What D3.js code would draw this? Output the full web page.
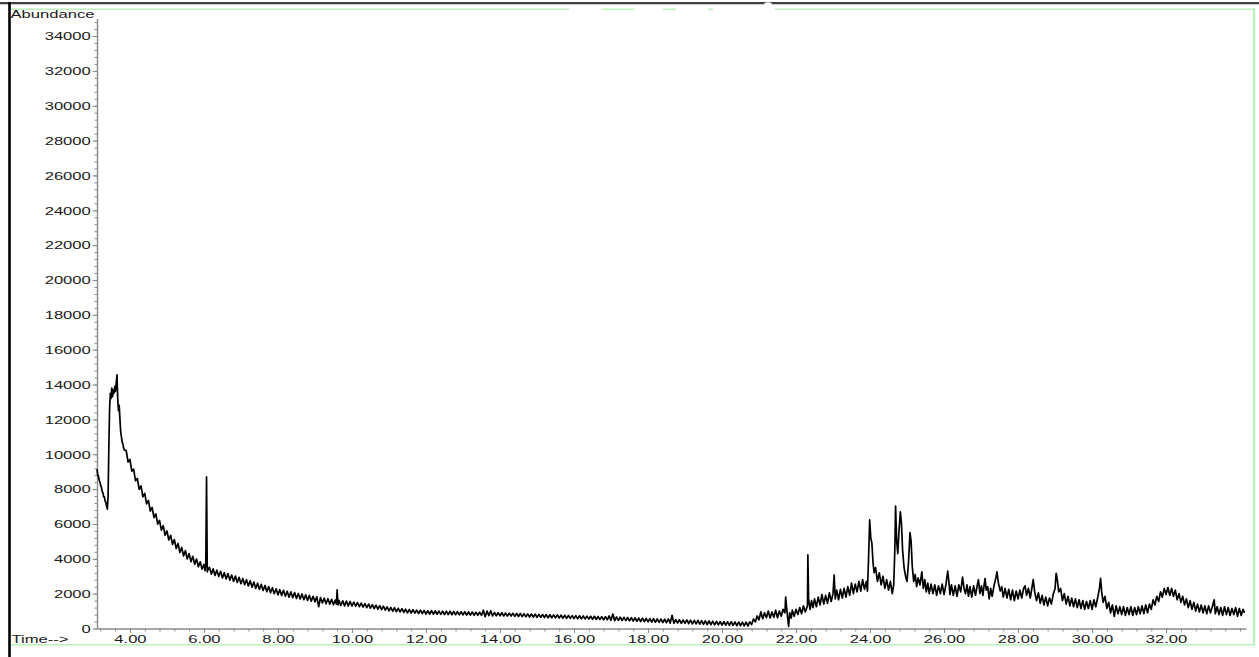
<!DOCTYPE html>
<html>
<head>
<meta charset="utf-8">
<script src="https://cdn.jsdelivr.net/npm/d3@7"></script>
<style>
  html, body { margin: 0; padding: 0; background: #fff; }
  svg { display: block; }
</style>
</head>
<body>
<svg id="chart" width="1259" height="657"></svg>
<script>
// ---- Axis labels -------------------------------------------------------
const yTickValues = [0, 2000, 4000, 6000, 8000, 10000, 12000, 14000, 16000,
  18000, 20000, 22000, 24000, 26000, 28000, 30000, 32000, 34000];
const xLabelTimes = [4, 6, 8, 10, 12, 14, 16, 18, 20, 22, 24, 26, 28, 30, 32];
const xTickLabels = ["4.00", "6.00", "8.00", "10.00", "12.00", "14.00", "16.00",
  "18.00", "20.00", "22.00", "24.00", "26.00", "28.00", "30.00", "32.00"];
const yAxisTitle = "Abundance";
const xAxisTitle = "Time-->";

// ---- Total ion chromatogram: [retention time (min), abundance] ----------
const solventFront = [
  [3.11,9150],[3.13,8800],[3.15,8750],[3.17,8500],[3.19,8400],[3.21,8200],[3.23,8100],
  [3.25,7850],[3.27,7800],[3.29,7550],[3.31,7550],[3.33,7300],[3.35,7250],[3.37,7000],
  [3.39,6850],[3.41,7600],[3.43,10400],[3.45,12600],[3.47,13500],[3.49,13200],[3.51,13800],
  [3.53,13300],[3.55,13700],[3.57,13500],[3.59,13900],[3.61,13600],[3.63,14100],[3.65,14550],
  [3.67,13200],[3.69,12500],[3.71,12800],[3.73,12000],[3.75,11300],[3.77,11000],[3.79,10700],
  [3.81,10600],[3.83,10350],[3.85,10250]
];

const earlyDecay = [
  [3.90,10200],[3.95,9550],[4.00,9700],[4.05,9030],[4.10,9150],[4.15,8480],[4.20,8610],
  [4.25,7990],[4.30,8180],[4.35,7560],[4.40,7760],[4.45,7150],[4.50,7350],[4.55,6740],
  [4.60,6950],[4.65,6360],[4.70,6580],[4.75,5990],[4.80,6200],[4.85,5650],[4.90,5900],
  [4.95,5350],[5.00,5600],[5.05,5080],[5.10,5350],[5.15,4830],[5.20,5100],[5.25,4590],
  [5.30,4880],[5.35,4360],[5.40,4650],[5.45,4160],[5.50,4470],[5.55,3990],[5.60,4300],
  [5.65,3830],[5.70,4140],[5.75,3690],[5.80,3990],[5.85,3540],[5.90,3830],[5.95,3400],
  [6.00,3680],[6.03,3320],[6.05,3650],[6.07,8700],[6.09,3250],[6.12,3450]
];

const midBaseline = [
  [6.15,3500],[6.20,3120],[6.25,3420],[6.30,3040],[6.35,3350],[6.40,2980],[6.45,3280],
  [6.50,2900],[6.55,3200],[6.60,2840],[6.65,3150],[6.70,2770],[6.75,3070],[6.80,2700],
  [6.85,3010],[6.90,2640],[6.95,2940],[7.00,2570],[7.05,2870],[7.10,2510],[7.15,2800],
  [7.20,2440],[7.25,2740],[7.30,2370],[7.35,2670],[7.40,2300],[7.45,2600],[7.50,2240],
  [7.55,2530],[7.60,2180],[7.65,2470],[7.70,2110],[7.75,2410],[7.80,2050],[7.85,2340],
  [7.90,2000],[7.95,2280],[8.00,1930],[8.05,2230],[8.10,1890],[8.15,2190],[8.20,1850],
  [8.25,2140],[8.30,1800],[8.35,2100],[8.40,1770],[8.45,2060],[8.50,1720],[8.55,2010],
  [8.60,1690],[8.65,1980],[8.70,1650],[8.75,1930],[8.80,1610],[8.85,1900],[8.90,1570],
  [8.95,1850],[9.00,1530],[9.05,1820],[9.10,1250],[9.15,1780],[9.20,1460],[9.25,1740],
  [9.30,1420],[9.35,1710],[9.40,1390],[9.45,1670],[9.50,1360],[9.55,1630],[9.58,1400],
  [9.60,2220],[9.62,1350],[9.65,1610],[9.70,1320],[9.75,1590],[9.80,1300],[9.85,1570],
  [9.90,1290],[9.95,1550],[10.00,1290],[10.05,1520],[10.10,1280],[10.15,1490],[10.20,1250],
  [10.25,1460],[10.30,1230],[10.35,1430],[10.40,1200],[10.45,1400],[10.50,1170],[10.55,1370],
  [10.60,1140],[10.65,1340],[10.70,1110],[10.75,1310],[10.80,1080],[10.85,1280],[10.90,1050],
  [10.95,1240],[11.00,1010],[11.05,1210],[11.10,990],[11.15,1190],[11.20,970],[11.25,1160],
  [11.30,950],[11.35,1140],[11.40,920],[11.45,1110],[11.50,900],[11.55,1090],[11.60,890],
  [11.65,1080],[11.70,880],[11.75,1060],[11.80,860],[11.85,1050],[11.90,850],[11.95,1040],
  [12.00,830],[12.05,1020],[12.10,830],[12.15,1020],[12.20,820],[12.25,1010],[12.30,820],
  [12.35,1000],[12.40,810],[12.45,1000],[12.50,800],[12.55,990],[12.60,800],[12.65,990],
  [12.70,790],[12.75,980],[12.80,790],[12.85,970],[12.90,780],[12.95,960],[13.00,780],
  [13.05,960],[13.10,770],[13.15,950],[13.20,770],[13.25,950],[13.30,760],[13.35,940],
  [13.40,760],[13.45,940],[13.50,750],[13.55,1050],[13.60,680],[13.65,1000],[13.70,740],
  [13.75,1020],[13.80,720],[13.85,920],[13.90,730],[13.95,910],[14.00,730],[14.05,900],
  [14.10,720],[14.15,890],[14.20,710],[14.25,880],[14.30,710],[14.35,870],[14.40,700],
  [14.45,860],[14.50,690],[14.55,860],[14.60,680],[14.65,850],[14.70,670],[14.75,840],
  [14.80,660],[14.85,830],[14.90,650],[14.95,820],[15.00,640],[15.05,810],[15.10,640],
  [15.15,800],[15.20,630],[15.25,800],[15.30,620],[15.35,790],[15.40,610],[15.45,780],
  [15.50,610],[15.55,780],[15.60,600],[15.65,770],[15.70,590],[15.75,760],[15.80,580],
  [15.85,750],[15.90,580],[15.95,740],[16.00,570],[16.05,740],[16.10,560],[16.15,730],
  [16.20,550],[16.25,720],[16.30,550],[16.35,710],[16.40,540],[16.45,700],[16.50,530],
  [16.55,700],[16.60,520],[16.65,690],[16.70,510],[16.75,680],[16.80,500],[16.85,670],
  [16.90,500],[16.95,720],[17.00,470],[17.05,830],[17.10,450],[17.15,660],[17.20,470],
  [17.25,650],[17.30,460],[17.35,640],[17.40,450],[17.45,630],[17.50,440],[17.55,620],
  [17.60,420],[17.65,610],[17.70,410],[17.75,600],[17.80,400],[17.85,590],[17.90,390],
  [17.95,580],[18.00,380],[18.05,570],[18.10,370],[18.15,560],[18.20,360],[18.25,550],
  [18.30,350],[18.35,540],[18.40,340],[18.45,530],[18.50,330],[18.55,550],[18.60,310],
  [18.65,760],[18.70,300],[18.75,510],[18.80,310],[18.85,500],[18.90,300],[18.95,490],
  [19.00,290],[19.05,490],[19.10,280],[19.15,480],[19.20,270],[19.25,470],[19.30,260],
  [19.35,460],[19.40,250],[19.45,450],[19.50,240],[19.55,440],[19.60,230],[19.65,430],
  [19.70,220],[19.75,420],[19.80,210],[19.85,410],[19.90,210],[19.95,400],[20.00,200],
  [20.05,400],[20.10,190],[20.15,390],[20.20,180],[20.25,390],[20.30,180],[20.35,380],
  [20.40,170],[20.45,370],[20.50,160],[20.55,370],[20.60,150],[20.65,360],[20.70,150],
  [20.75,380],[20.80,230],[20.85,540],[20.90,380],[20.95,720],[21.00,500]
];

const lateElution = [
  [21.05,950],[21.10,560],[21.15,900],[21.20,620],[21.25,1000],[21.30,600],[21.35,950],
  [21.40,640],[21.45,1050],[21.50,620],[21.55,1000],[21.60,700],[21.65,1100],[21.70,900],
  [21.72,1800],[21.75,1100],[21.78,500],[21.80,120],[21.83,900],[21.87,600],[21.90,1050],
  [21.95,700],[22.00,1100],[22.05,800],[22.10,1200],[22.15,850],[22.20,1300],[22.25,950],
  [22.30,1250],[22.31,1300],[22.32,4220],[22.34,1700],[22.38,1100],[22.42,1600],[22.46,1200],
  [22.50,1700],[22.55,1250],[22.60,1800],[22.65,1350],[22.70,1950],[22.75,1400],[22.80,1900],
  [22.85,1450],[22.90,2050],[22.95,1550],[23.00,2000],[23.03,3070],[23.06,1700],[23.10,2200],
  [23.15,1650],[23.20,2250],[23.25,1750],[23.30,2300],[23.35,1800],[23.40,2400],[23.45,1900],
  [23.50,2600],[23.55,2000],[23.60,2550],[23.65,2100],[23.70,2700],[23.75,2150],[23.80,2800],
  [23.85,2250],[23.90,2700],[23.93,2150],[23.96,4000],[23.99,6230],[24.02,5200],[24.05,4900],
  [24.08,3800],[24.11,3200],[24.15,3500],[24.20,2700],[24.25,3200],[24.30,2500],[24.35,3000],
  [24.40,2300],[24.45,2800],[24.50,2200],[24.55,2700],[24.60,2000],[24.64,2500],[24.67,4500],
  [24.69,7030],[24.72,5000],[24.75,4300],[24.78,5500],[24.82,6700],[24.85,6000],[24.88,4500],
  [24.92,3500],[24.96,3000],[25.00,2700],[25.04,3800],[25.08,5500],[25.11,5000],[25.14,3600],
  [25.18,2700],[25.22,3100],[25.26,2400],[25.30,2900],[25.35,2500],[25.40,3250],[25.44,2300],
  [25.48,2800],[25.52,2100],[25.56,2600],[25.60,2000],[25.65,2550],[25.70,2000],[25.75,2500],
  [25.80,1900],[25.85,2450],[25.90,2000],[25.95,2550],[26.00,1950],[26.05,2500],[26.10,3300],
  [26.13,2700],[26.16,1950],[26.20,2500],[26.25,1900],[26.30,2450],[26.35,1850],[26.40,2500],
  [26.45,2100],[26.50,2950],[26.54,2300],[26.58,2000],[26.62,2500],[26.66,1850],[26.70,2400],
  [26.75,1800],[26.80,2450],[26.85,1900],[26.90,2500],[26.93,2800],[26.97,2000],[27.01,2450],
  [27.05,1900],[27.09,2600],[27.11,2870],[27.14,2200],[27.18,2400],[27.22,1700],[27.26,2300],
  [27.30,1850],[27.35,2450],[27.40,2900],[27.43,3250],[27.47,2600],[27.52,2150],[27.56,2400],
  [27.60,1800],[27.65,2300],[27.70,1750],[27.75,2250],[27.80,1650],[27.85,2200],[27.90,1600],
  [27.95,2150],[28.00,1700],[28.05,2200],[28.10,1750],[28.15,2300],[28.19,2450],[28.23,1900],
  [28.28,2300],[28.33,1750],[28.38,2400],[28.41,2800],[28.45,2100],[28.50,1600],[28.55,2050],
  [28.60,1450],[28.65,1900],[28.70,1350],[28.75,1800],[28.80,1300],[28.85,1750],[28.90,1400],
  [28.95,1950],[29.00,2300],[29.03,3170],[29.06,2800],[29.10,2100],[29.15,2300],[29.20,1600],
  [29.25,2000],[29.30,1400],[29.35,1850],[29.40,1300],[29.45,1750],[29.50,1250],[29.55,1700],
  [29.60,1200],[29.65,1650],[29.70,1150],[29.75,1600],[29.80,1100],[29.85,1550],[29.90,1150],
  [29.95,1600],[30.00,1100],[30.05,1650],[30.10,1250],[30.15,1750],[30.20,2300],[30.23,2880],
  [30.26,2100],[30.30,1500],[30.35,1850],[30.40,1150],[30.45,1500],[30.50,900],[30.55,1350],
  [30.60,700],[30.65,1300],[30.70,850],[30.75,1250],[30.80,800],[30.85,1250],[30.90,750],
  [30.95,1200],[31.00,800],[31.05,1250],[31.10,750],[31.15,1200],[31.20,800],[31.25,1250],
  [31.30,850],[31.35,1300],[31.40,850],[31.45,1350],[31.50,900],[31.55,1400],[31.60,1100],
  [31.65,1650],[31.70,1350],[31.75,1850],[31.80,1550],[31.85,2100],[31.90,1800],[31.95,2300],
  [32.00,1950],[32.05,2350],[32.10,1900],[32.15,2300],[32.20,1850],[32.25,2200],[32.30,1650],
  [32.35,2000],[32.40,1500],[32.45,1850],[32.50,1350],[32.55,1700],[32.60,1200],[32.65,1600],
  [32.70,1100],[32.75,1500],[32.80,1000],[32.85,1400],[32.90,950],[32.95,1350],[33.00,900],
  [33.05,1300],[33.10,850],[33.15,1300],[33.20,900],[33.25,1250],[33.30,1650],[33.33,850],
  [33.38,1250],[33.43,800],[33.48,1200],[33.53,750],[33.58,1250],[33.63,800],[33.68,1200],
  [33.73,750],[33.78,1150],[33.83,800],[33.88,1200],[33.93,700],[33.98,1150],[34.03,750],
  [34.08,1100],[34.12,900]
];

const chromatogram = solventFront.concat(earlyDecay, midBaseline, lateElution);

// ---- Layout ----------------------------------------------------------------
const svg = d3.select("#chart");
const plot = { left: 97, right: 1246, top: 18.6, bottom: 628.5 };
const fontSize = 10.5;
const stretch = 1.58;           // wide, instrument-report style lettering
const axisGrey = "#8a8a8a";
const frameGreen = "#b9f3b9";

const x = d3.scaleLinear().domain([3.11, 34.16]).range([plot.left, plot.right]);
const y = d3.scaleLinear().domain([0, 35000]).range([plot.bottom, plot.top]);

// ---- Page frame ------------------------------------------------------------
const frame = svg.append("g");
frame.append("line").attr("x1", 0).attr("x2", 1259).attr("y1", 3).attr("y2", 3)
  .attr("stroke", "#000").attr("stroke-width", 1.6);
frame.append("line").attr("x1", 0).attr("x2", 1259).attr("y1", 4.6).attr("y2", 4.6)
  .attr("stroke", "#bbb").attr("stroke-width", 0.8);
frame.append("ellipse").attr("cx", 768).attr("cy", 4.5).attr("rx", 4).attr("ry", 2.2)
  .attr("fill", "#fff");
frame.append("line").attr("x1", 9.5).attr("x2", 9.5).attr("y1", 2).attr("y2", 657)
  .attr("stroke", "#000").attr("stroke-width", 2.6);

// light green plot-area frame (top edge is broken in places)
[[11, 569], [602, 634], [663, 676], [708, 713], [775, 1255]].forEach(([a, b]) => {
  frame.append("line").attr("x1", a).attr("x2", b).attr("y1", 9.3).attr("y2", 9.3)
    .attr("stroke", frameGreen).attr("stroke-width", 1.6);
});
frame.append("line").attr("x1", 1254).attr("x2", 1254).attr("y1", 8.5).attr("y2", 645.5)
  .attr("stroke", frameGreen).attr("stroke-width", 2.2);
frame.append("line").attr("x1", 11).attr("x2", 1255).attr("y1", 644.8).attr("y2", 644.8)
  .attr("stroke", frameGreen).attr("stroke-width", 1.6);

// ---- Axes ------------------------------------------------------------------
function styleAxis(g) {
  g.select(".domain").attr("stroke", axisGrey).attr("stroke-width", 1.4);
  g.selectAll(".tick line").attr("stroke", axisGrey).attr("stroke-width", 1);
  g.selectAll("text").attr("fill", "#1a1a1a")
    .style("font-family", "'Liberation Sans', Arial, sans-serif")
    .style("font-size", fontSize + "px");
}

// minor y ticks every 400
const yMinor = svg.append("g").attr("transform", `translate(${plot.left},0)`)
  .call(d3.axisLeft(y).tickValues(d3.range(0, 35001, 400)).tickSize(2.5)
    .tickFormat("").tickSizeOuter(0));
styleAxis(yMinor);

// labelled y ticks
const yMajor = svg.append("g").attr("transform", `translate(${plot.left},0)`)
  .call(d3.axisLeft(y).tickValues(yTickValues).tickSize(4.5).tickPadding(2)
    .tickFormat(d3.format("d")).tickSizeOuter(0));
styleAxis(yMajor);
yMajor.select(".domain").remove();
yMajor.selectAll(".tick text")
  .attr("x", null).attr("dy", null)
  .attr("transform", `translate(-6.2,3.8) scale(${stretch},1)`);

// minor x ticks every 0.4 min
const xMinor = svg.append("g").attr("transform", `translate(0,${plot.bottom})`)
  .call(d3.axisBottom(x).tickValues(d3.range(3.2, 34.01, 0.4)).tickSize(3)
    .tickFormat("").tickSizeOuter(0));
styleAxis(xMinor);

// labelled x ticks
const xMajor = svg.append("g").attr("transform", `translate(0,${plot.bottom})`)
  .call(d3.axisBottom(x).tickValues(xLabelTimes).tickSize(4.5)
    .tickFormat((d, i) => xTickLabels[i]).tickSizeOuter(0));
styleAxis(xMajor);
xMajor.select(".domain").remove();
xMajor.selectAll(".tick text")
  .attr("y", null).attr("dy", null)
  .attr("transform", `translate(0,14.6) scale(${stretch},1)`);

// axis titles
svg.append("text").text(yAxisTitle)
  .attr("transform", `translate(10.5,17.6) scale(${stretch},1)`)
  .attr("fill", "#1a1a1a")
  .style("font-family", "'Liberation Sans', Arial, sans-serif")
  .style("font-size", fontSize + "px");
svg.append("text").text(xAxisTitle)
  .attr("transform", `translate(11.5,643.2) scale(${stretch},1)`)
  .attr("fill", "#1a1a1a")
  .style("font-family", "'Liberation Sans', Arial, sans-serif")
  .style("font-size", fontSize + "px");

// ---- Trace -----------------------------------------------------------------
const line = d3.line().x(d => x(d[0])).y(d => y(d[1]));
svg.append("path")
  .datum(chromatogram)
  .attr("d", line)
  .attr("fill", "none")
  .attr("stroke", "#000")
  .attr("stroke-width", 1.7)
  .attr("stroke-linejoin", "round");
</script>
</body>
</html>
